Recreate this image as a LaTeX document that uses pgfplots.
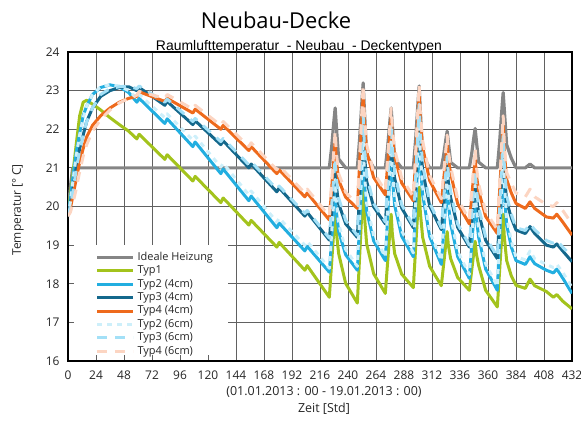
\documentclass[border=0pt]{standalone}
\usepackage{fontspec}
\setmainfont{Open Sans}
\newfontfamily\arialfont{Liberation Sans}
\usepackage{pgfplots}
\usepackage{pgfplotstable}
\pgfplotsset{compat=1.18}
\definecolor{cIdeal}{HTML}{858585}
\definecolor{cT1}{HTML}{A3C31C}
\definecolor{cT2}{HTML}{22AEE0}
\definecolor{cT3}{HTML}{14688C}
\definecolor{cT4}{HTML}{EE6A1C}
\definecolor{cT2b}{HTML}{CDEFFA}
\definecolor{cT3b}{HTML}{A3E0F7}
\definecolor{cT4b}{HTML}{FCD5C2}
\pgfplotstableread{
t gray t1 t2 t3 t4 t2b t3b t4b
0 19.8 19.8 19.8 19.8 19.8 19.75 19.75 19.75
2 20.5 20.3 20.2 20.05 19.95 20.1 20.0 19.85
4 21.0 20.8 20.7 20.4 20.25 20.6 20.35 20.05
7 21.0 21.6 21.4 21.0 20.7 21.3 20.95 20.45
10 21.0 22.35 21.9 21.5 21.15 21.85 21.45 20.9
13 21.0 22.7 22.35 21.85 21.5 22.3 21.85 21.3
16 21.0 22.75 22.6 22.2 21.8 22.6 22.2 21.6
21 21.0 22.65 22.9 22.55 22.1 22.9 22.55 21.95
28 21.0 22.5 23.08 22.85 22.35 23.1 22.9 22.25
36 21.0 22.3 23.15 23.0 22.55 23.15 23.05 22.5
44 21.0 22.12 23.1 23.08 22.7 23.12 23.1 22.68
52 21.0 21.95 22.95 23.1 22.8 23.0 23.12 22.8
59 21.0 21.75 22.7 23.0 22.85 22.8 23.05 22.88
61 21.0 21.87 22.8 23.08 22.97 22.9 23.12 22.98
83 21.0 21.22 22.15 22.62 22.72 22.3 22.7 22.8
85 21.0 21.34 22.27 22.72 22.8 22.4 22.78 22.9
107 21.0 20.66 21.55 22.12 22.42 21.72 22.2 22.52
109 21.0 20.78 21.67 22.22 22.52 21.82 22.28 22.62
131 21.0 20.1 20.85 21.6 22.0 21.02 21.68 22.1
133 21.0 20.22 20.97 21.7 22.1 21.12 21.76 22.2
155 21.0 19.52 20.15 21.0 21.45 20.3 21.08 21.55
157 21.0 19.64 20.27 21.1 21.55 20.4 21.16 21.65
179 21.0 18.95 19.45 20.38 20.85 19.6 20.45 20.95
181 21.0 19.07 19.57 20.48 20.95 19.7 20.53 21.05
203 21.0 18.35 18.85 19.75 20.25 19.0 19.82 20.35
205 21.0 18.47 18.97 19.85 20.35 19.1 19.9 20.45
224 21 17.65 18.3 19.13 19.65 18.4 19.18 19.75
226 21.54 18.55 19.14 19.88 20.47 19.32 20.01 20.63
228 22.24 19.45 19.98 20.63 21.29 20.24 20.84 21.51
229 22.55 19.9 20.4 21.0 21.7 20.7 21.25 21.95
230 22.09 19.34 19.88 20.53 21.19 20.13 20.73 21.4
232 21.23 18.78 19.35 20.07 20.68 19.55 20.22 20.85
238 21 18.01 18.75 19.55 20.24 18.89 19.64 20.37
248 21 17.5 18.35 19.2 19.95 18.45 19.25 20.05
250 21.77 18.72 19.57 20.36 21.13 19.75 20.49 21.29
252 22.76 19.94 20.79 21.52 22.31 21.05 21.73 22.53
253 23.2 20.55 21.4 22.1 22.9 21.7 22.35 23.15
254 22.54 19.79 20.64 21.38 22.16 20.89 21.58 22.38
256 21.33 19.03 19.88 20.65 21.43 20.08 20.8 21.6
262 21 18.26 19.11 19.99 20.75 19.25 20.08 20.88
272 21 17.75 18.6 19.55 20.3 18.7 19.6 20.4
274 21.54 18.57 19.74 20.49 21.1 19.92 20.62 21.26
276 22.24 19.39 20.88 21.43 21.9 21.14 21.64 22.12
277 22.55 19.8 21.45 21.9 22.3 21.75 22.15 22.55
278 22.09 19.29 20.74 21.31 21.8 20.99 21.51 22.01
280 21.23 18.78 20.03 20.73 21.3 20.23 20.88 21.48
286 21 18.25 19.23 19.96 20.61 19.37 20.05 20.74
296 21 17.9 18.7 19.45 20.15 18.8 19.5 20.25
298 21.74 18.94 19.98 20.63 21.25 20.16 20.76 21.41
300 22.7 19.98 21.26 21.81 22.35 21.52 22.02 22.57
301 23.12 20.5 21.9 22.4 22.9 22.2 22.65 23.15
302 22.48 19.85 21.1 21.66 22.21 21.35 21.86 22.43
304 21.32 19.2 20.3 20.93 21.53 20.5 21.08 21.7
310 21 18.45 19.22 20.01 20.67 19.36 20.1 20.8
320 21 17.95 18.5 19.4 20.1 18.6 19.45 20.2
322 21.33 18.51 19.34 20.06 20.7 19.52 20.19 20.86
324 21.76 19.07 20.18 20.72 21.3 20.44 20.93 21.52
325 21.95 19.35 20.6 21.05 21.6 20.9 21.3 21.85
326 21.67 19.0 20.08 20.64 21.23 20.33 20.84 21.44
328 21.14 18.65 19.55 20.23 20.85 19.75 20.38 21.03
334 21 18.16 18.7 19.46 20.07 18.84 19.55 20.2
344 21 17.83 18.14 18.95 19.55 18.24 19.0 19.65
346 21.36 18.34 18.98 19.65 20.23 19.16 19.78 20.39
348 21.82 18.85 19.83 20.35 20.91 20.09 20.56 21.13
349 22.02 19.1 20.25 20.7 21.25 20.55 20.95 21.5
350 21.71 18.78 19.72 20.26 20.83 19.97 20.46 21.04
352 21.15 18.47 19.2 19.83 20.4 19.4 19.98 20.58
358 21 17.83 18.38 19.12 19.74 18.52 19.21 19.87
368 21 17.4 17.83 18.65 19.3 17.93 18.7 19.4
370 21.68 18.36 19.18 19.83 20.42 19.36 19.96 20.58
372 22.56 19.32 20.53 21.01 21.54 20.79 21.22 21.76
373 22.95 19.8 21.2 21.6 22.1 21.5 21.85 22.35
374 22.5 19.2 20.36 20.86 21.4 20.61 21.06 21.61
376 21.6 18.6 19.52 20.13 20.7 19.72 20.28 20.88
380 21.25 18.2 18.95 19.7 20.35 19.1 19.8 20.6
384 21.0 17.96 18.6 19.39 20.08 18.7 19.45 20.35
392 21.0 17.88 18.5 19.3 19.95 18.62 19.38 20.25
396 21.1 18.12 18.7 19.48 20.12 18.85 19.55 20.45
400 21.0 17.95 18.52 19.3 19.95 18.65 19.4 20.25
410 21.0 17.8 18.35 19.0 19.73 18.5 19.12 20.05
416 21.0 17.65 18.28 18.95 19.7 18.42 19.05 20.0
419 21.0 17.72 18.38 19.03 19.8 18.5 19.12 20.1
424 21.0 17.55 18.15 18.85 19.6 18.3 18.95 19.9
432 21.0 17.35 17.75 18.57 19.26 17.9 18.7 19.55
}\datatable

\begin{document}
\begin{tikzpicture}
\path[use as bounding box] (-68bp,-60bp) rectangle (513bp,361bp);
\begin{axis}[
  at={(0,0)}, anchor=south west,
  scale only axis, width=504bp, height=309bp,
  xmin=0, xmax=432, ymin=16, ymax=24,
  xtick={0,24,...,432}, ytick={16,17,...,24},
  grid=major,
  major grid style={color=black!62, line width=0.9bp},
  axis line style={black, line width=1.1bp},
  major tick length=0pt,
  tick label style={font=\fontsize{12}{14}\selectfont, text=black!85},
  /pgf/number format/assume math mode=true,
  xticklabel style={yshift=-6bp},
  yticklabel style={xshift=-5bp},
  legend cell align=left,
  legend image code/.code={\draw[#1] (0bp,0bp) -- (36bp,0bp);},
  legend style={at={(0.054,0.357)}, anchor=north west, draw=none, fill=none,
    inner sep=0pt, font=\fontsize{11}{13}\selectfont, text=black!85,
    nodes={inner sep=0pt, text height=9.5bp, text depth=3.9bp},
    row sep=0pt, column sep=3bp},
  every axis plot/.append style={line join=round},
]
\fill[white] (rel axis cs:0.012,0.0194) rectangle (rel axis cs:0.3175,0.375);
\addplot[cIdeal, line width=3.2bp] table[x=t,y=gray] {\datatable};
\addplot[cT1, line width=3bp] table[x=t,y=t1] {\datatable};
\addplot[cT2, line width=3bp] table[x=t,y=t2] {\datatable};
\addplot[cT3, line width=3bp] table[x=t,y=t3] {\datatable};
\addplot[cT4, line width=3bp] table[x=t,y=t4] {\datatable};
\addplot[cT2b, line width=3bp, dash pattern=on 5bp off 5bp] table[x=t,y=t2b] {\datatable};
\addplot[cT3b, line width=3bp, dash pattern=on 10bp off 8bp] table[x=t,y=t3b] {\datatable};
\addplot[cT4b, line width=3bp, dash pattern=on 10bp off 8bp] table[x=t,y=t4b] {\datatable};
\legend{Ideale Heizung, Typ1, Typ2 (4cm), Typ3 (4cm), Typ4 (4cm), Typ2 (6cm), Typ3 (6cm), Typ4 (6cm)}
\end{axis}
\node[font=\fontsize{22}{26}\selectfont] at (208bp,341bp) {Neubau-Decke};
\node[font=\arialfont\fontsize{14}{16}\selectfont, anchor=base] at (231bp,310bp) {Raumlufttemperatur~~- Neubau~~- Deckentypen};
\node[rotate=90, font=\fontsize{12}{14}\selectfont, text=black!85] at (-50bp,151bp) {Temperatur [°\,C]};
\node[font=\fontsize{12.5}{14}\selectfont, text=black!85] at (256bp,-31bp) {(01.01.2013 : 00 - 19.01.2013 : 00)};
\node[font=\fontsize{12.5}{14}\selectfont, text=black!85] at (256bp,-48bp) {Zeit [Std]};
\end{tikzpicture}
\end{document}
